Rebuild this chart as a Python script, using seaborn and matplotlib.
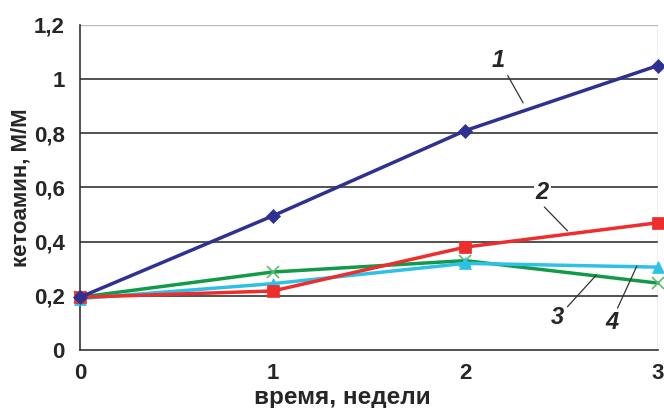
import matplotlib
matplotlib.use("Agg")
import matplotlib.pyplot as plt
import seaborn as sns
import pandas as pd

weeks = [0, 1, 2, 3]
s1 = [0.195, 0.495, 0.81, 1.05]
s2 = [0.195, 0.218, 0.38, 0.47]
s3 = [0.195, 0.288, 0.33, 0.247]
s4 = [0.19, 0.245, 0.32, 0.306]
names = ["1", "2", "3", "4"]
yticks = [0, 0.2, 0.4, 0.6, 0.8, 1.0, 1.2]
ytick_labels = ["0", "0,2", "0,4", "0,6", "0,8", "1", "1,2"]
xticks = [0, 1, 2, 3]

sns.set_theme(style="white")
plt.rcParams['font.family'] = ['Liberation Sans', 'DejaVu Sans']

rows = []
for n, vals in zip(names, [s1, s2, s3, s4]):
    for w, v in zip(weeks, vals):
        rows.append({"week": w, "val": v, "series": n})
df = pd.DataFrame(rows)

fig = plt.figure(figsize=(6.64, 4.08), dpi=100)
ax = fig.add_axes([0.1205, 0.142, 0.8705, 0.797])

styles = {
    "1": dict(color="#2E3192", marker="D", ms=7, mfc="#2E3192", mec="#2E3192"),
    "2": dict(color="#EE2D2D", marker="s", ms=9, mfc="#EE2D2D", mec="#EE2D2D"),
    "3": dict(color="#139A48", marker="x", ms=9, mfc="#5DBB6B", mec="#5DBB6B"),
    "4": dict(color="#2EC1E8", marker="^", ms=9, mfc="#2EC1E8", mec="#2EC1E8"),
}
order = ["3", "4", "2", "1"]
for n in order:
    st = styles[n]
    sub = df[df["series"] == n]
    sns.lineplot(data=sub, x="week", y="val", ax=ax, color=st["color"], lw=2.5,
                 marker=st["marker"], markersize=st["ms"], markerfacecolor=st["mfc"],
                 markeredgecolor=st["mec"], markeredgewidth=1.2 if n == "3" else 0.5,
                 clip_on=False, legend=False, zorder=3)

ax.set_xlim(0, 3)
ax.set_ylim(0, 1.2)
ax.set_yticks(yticks)
ax.set_yticklabels(ytick_labels)
ax.set_xticks(xticks)
ax.set_xticklabels([str(x) for x in xticks])
for y in yticks[1:-1]:
    ax.axhline(y, color="#333333", lw=1.2, zorder=1)
ax.axhline(1.2, color="#BBBBBB", lw=1.0, zorder=1)

for s in ["top", "right"]:
    ax.spines[s].set_visible(False)
ax.axvline(3, color="#BBBBBB", lw=1.0, zorder=1)
for s in ["left", "bottom"]:
    ax.spines[s].set_color("#333333")
    ax.spines[s].set_linewidth(1.2)

ax.tick_params(axis="both", direction="out", length=6, width=1.2, color="#333333",
               labelsize=16, pad=3)
ax.tick_params(axis="y", pad=5)
for lbl in ax.get_xticklabels() + ax.get_yticklabels():
    lbl.set_fontweight("bold")

ax.set_xlabel("время, недели", fontsize=17.5, fontweight="bold")
ax.xaxis.set_label_coords(0.453, -0.145)
ax.xaxis.label.set_va("center")
ax.set_ylabel("кетоамин, М/М", fontsize=16, fontweight="bold")
ax.yaxis.set_label_coords(-0.102, 0.5)
ax.yaxis.label.set_va("center")

# series annotations with leader lines
ann = [
    ("1", 2.17, 1.068, 2.22, 1.013, 2.30, 0.912),
    ("2", 2.40, 0.583, 2.41, 0.528, 2.53, 0.44),
    ("3", 2.48, 0.122, 2.53, 0.16, 2.68, 0.277),
    ("4", 2.76, 0.103, 2.79, 0.155, 2.89, 0.31),
]
for t, tx, ty, x0, y0, x1, y1 in ann:
    ax.plot([x0, x1], [y0, y1], color="#333333", lw=0.9, zorder=4, clip_on=False)
    ax.text(tx, ty, t, fontsize=17, fontweight="bold", fontstyle="italic",
            ha="center", va="center", zorder=5,
            bbox=dict(facecolor="white", edgecolor="none", pad=1.5) if t == "2" else None)

fig.savefig("out.png", dpi=100)
